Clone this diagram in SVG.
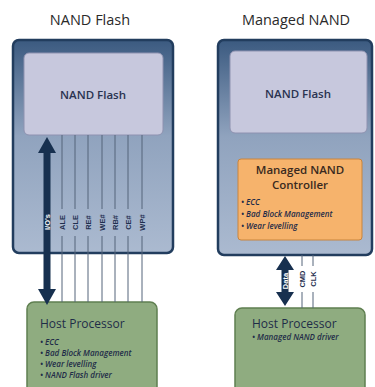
<svg xmlns="http://www.w3.org/2000/svg" width="375" height="387" viewBox="0 0 375 387">
<defs>
<linearGradient id="outerG" x1="0" y1="0" x2="0" y2="1">
<stop offset="0" stop-color="#3b5a80"/>
<stop offset="0.45" stop-color="#90a3be"/>
<stop offset="1" stop-color="#abbad0"/>
</linearGradient>
<style>
.title{font-family:"Open Sans","Noto Sans",sans-serif;font-size:14.5px;fill:#2a2a2a;text-anchor:middle}
.outer{fill:url(#outerG);stroke:#223d5e;stroke-width:2.5}
.flash{fill:#c7c8dd;stroke:#8e92b0;stroke-width:1}
.flashT{font-family:"Open Sans","Noto Sans",sans-serif;font-size:11.5px;font-weight:600;fill:#2a3350;text-anchor:middle}
.host{fill:#8fac80;stroke:#5f7f50;stroke-width:1.5}
.ctrl{fill:#f6b36c;stroke:#c9843c;stroke-width:1}
.head{font-family:"Open Sans","Noto Sans",sans-serif;font-size:12px;fill:#1f2c48}
.ctrlT{font-family:"Open Sans","Noto Sans",sans-serif;font-size:11.5px;font-weight:600;fill:#3a2a20;text-anchor:middle}
.bul{font-family:"Open Sans","Noto Sans",sans-serif;font-size:8px;font-style:italic;font-weight:600;fill:#1f2c48}
.sig{stroke:#55657a;stroke-width:1;fill:none}
.sigL{font-family:"Liberation Sans",sans-serif;font-size:7.5px;font-weight:700;fill:#1f2f4f;text-anchor:middle}
.arrow{fill:#17304f}
.arrL{font-family:"Liberation Sans",sans-serif;font-size:7.5px;font-weight:700;fill:#fff;text-anchor:middle}
</style>
</defs>
<rect width="375" height="387" fill="#fff"/>

<text class="title" x="90" y="25">NAND Flash</text>
<text class="title" x="296" y="25">Managed NAND</text>

<g id="left-module">
<rect class="outer" x="13" y="40" width="160" height="213" rx="6"/>
</g>
<g id="left-nand">
<rect class="flash" x="24" y="53" width="139" height="82" rx="5"/>
<text class="flashT" x="93" y="99">NAND Flash</text>
</g>
<g id="left-host">
<rect class="host" x="27" y="302" width="130" height="95" rx="7"/>
<text class="head" x="40" y="328">Host Processor</text>
<text class="bul" x="40" y="345">• ECC</text>
<text class="bul" x="40" y="356">• Bad Block Management</text>
<text class="bul" x="40" y="367">• Wear levelling</text>
<text class="bul" x="40" y="378">• NAND Flash driver</text>
</g>

<g id="right-module">
<rect class="outer" x="218" y="40" width="154" height="215" rx="6"/>
</g>
<g id="right-nand">
<rect class="flash" x="230" y="51" width="137" height="82" rx="5"/>
<text class="flashT" x="298" y="98">NAND Flash</text>
</g>
<g id="controller">
<rect class="ctrl" x="238" y="159" width="124" height="81" rx="3"/>
<text class="ctrlT" x="300" y="174">Managed NAND</text>
<text class="ctrlT" x="300" y="189">Controller</text>
<text class="bul" x="241" y="205">• ECC</text>
<text class="bul" x="241" y="217">• Bad Block Management</text>
<text class="bul" x="241" y="229">• Wear levelling</text>
</g>
<g id="right-host">
<rect class="host" x="235" y="308" width="130" height="89" rx="7"/>
<text class="head" x="252" y="328">Host Processor</text>
<text class="bul" x="252" y="340">• Managed NAND driver</text>
</g>

<g id="connectors">
<path class="sig" d="M62 135V209M62 236V302M75 135V209M75 236V302M88 135V209M88 236V302M102 135V209M102 236V302M115 135V209M115 236V302M128 135V209M128 236V302M142 135V209M142 236V302"/>
<text class="sigL" transform="translate(64.7,222.5) rotate(-90)">ALE</text>
<text class="sigL" transform="translate(77.7,222.5) rotate(-90)">CLE</text>
<text class="sigL" transform="translate(90.7,222.5) rotate(-90)">RE#</text>
<text class="sigL" transform="translate(104.7,222.5) rotate(-90)">WE#</text>
<text class="sigL" transform="translate(117.7,222.5) rotate(-90)">RB#</text>
<text class="sigL" transform="translate(130.7,222.5) rotate(-90)">CE#</text>
<text class="sigL" transform="translate(144.7,222.5) rotate(-90)">WP#</text>
<path class="arrow" d="M47 137L56 153H50.5V289H56L47 305L38 289H43.5V153H38Z"/>
<text class="arrL" transform="translate(49.8,222) rotate(-90)">I/O's</text>

<path class="sig" d="M302 255V266M302 292V308M313 255V266M313 292V308"/>
<text class="sigL" transform="translate(304.7,279) rotate(-90)">CMD</text>
<text class="sigL" transform="translate(315.7,279) rotate(-90)">CLK</text>
<path class="arrow" d="M285 256L294 270H288.5V292H294L285 306L276 292H281.5V270H276Z"/>
<text class="arrL" transform="translate(287.8,281) rotate(-90)">Data</text>
</g>
</svg>
